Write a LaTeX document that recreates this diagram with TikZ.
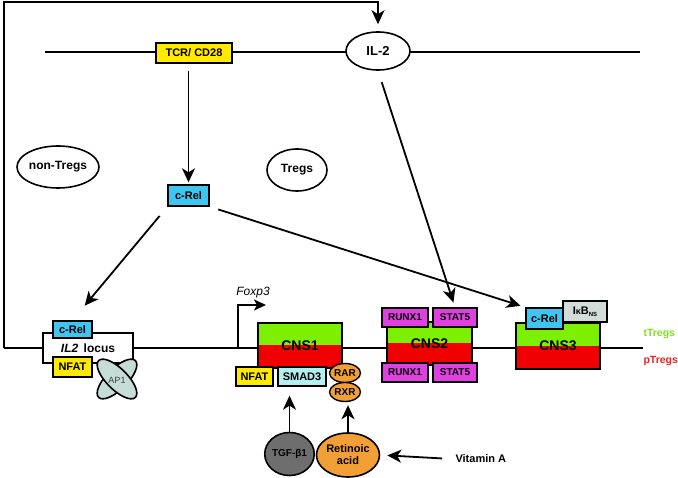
\documentclass[tikz,border=0pt]{standalone}
\usepackage{fontspec}
\setmainfont{Liberation Sans}
\usetikzlibrary{arrows.meta,shapes.geometric}

\definecolor{boxyellow}{HTML}{FFEA00}
\definecolor{relblue}{HTML}{3FC6F0}
\definecolor{smadblue}{HTML}{B4F0F2}
\definecolor{runxpink}{HTML}{E040E0}
\definecolor{cnsgreen}{HTML}{7CF000}
\definecolor{cnsred}{HTML}{F00000}
\definecolor{raorange}{HTML}{F2A035}
\definecolor{tgfgrey}{HTML}{6E6E6E}
\definecolor{apgrey}{HTML}{C6DCD6}
\definecolor{ikbgrey}{HTML}{D2DCD8}
\definecolor{ttreggreen}{HTML}{80E020}
\definecolor{ptregred}{HTML}{F02020}

\tikzset{
  factor/.style={draw, line width=1.4pt, inner sep=0pt, font=\bfseries\fontsize{11}{11}\selectfont},
  cell/.style={draw, ellipse, line width=1.6pt, inner sep=0pt, font=\bfseries\fontsize{12}{12}\selectfont},
  cnsbox/.style={draw, line width=1.6pt, inner sep=0pt, font=\bfseries\fontsize{14}{14}\selectfont,
    path picture={
      \fill[cnsgreen] (path picture bounding box.north west) rectangle (path picture bounding box.east);
      \fill[cnsred] (path picture bounding box.west) rectangle (path picture bounding box.south east);
    }},
  arr/.style={line width=1.8pt, -{Stealth[length=14pt,width=13pt,inset=4pt]}},
}

\begin{document}
\begin{tikzpicture}[x=1pt,y=-1pt]

\def\TCRCOLOR{boxyellow}
\def\RELCOLOR{relblue}
\def\RUNXCOLOR{runxpink}
	\useasboundingbox (0,0) rectangle (678,478);

	% membrane and gene line
	\coordinate (left) at (4,348);
	\coordinate (right) at (643,348);
	\coordinate (top) at (4,2);
	\draw[line width=1.8pt] (45,52) -- (640,52);
	\draw[line width=1.8pt] (left) -- (right);

	\node[factor, fill=\TCRCOLOR, minimum width=76, minimum height=20] (tcr) at (194,53) {TCR/ CD28};
	\node[cell, fill=white, minimum width=64, minimum height=38, font=\bfseries\fontsize{13}{13}\selectfont] (il2) at (378,51) {IL-2};
	\node[cell, minimum width=73, minimum height=42] (nontregs) at (58,167) {non-Tregs};
	\node[cell, minimum width=60, minimum height=42] (tregs) at (297,170) {Tregs};
	\node[factor, fill=\RELCOLOR, minimum width=41, minimum height=21] (crel) at (188.5,195.5) {c-Rel};

	% IL2 locus
	\node[draw, line width=1.6pt, fill=white, minimum width=90, minimum height=30, inner sep=0pt,
	  font=\bfseries\fontsize{12}{12}\selectfont] (locus) at (88,348) {\textit{IL2}\, locus};
	\node[factor, fill=\RELCOLOR, minimum width=39, minimum height=17] (crelA) at (72.5,329.5) {c-Rel};
	\node[factor, fill=\TCRCOLOR, minimum width=39, minimum height=20] (nfatA) at (72.5,367) {NFAT};
	\node[draw, ellipse, line width=1.6pt, fill=apgrey, minimum width=52, minimum height=21, rotate=45] (apone) at (117,379) {};
	\node[draw, ellipse, line width=1.6pt, fill=apgrey, minimum width=52, minimum height=21, rotate=-45] (aptwo) at (117,379) {};
	\node[text=black!75, font=\fontsize{9}{9}\selectfont] (aplabel) at (117,380) {AP1};

	% CNS1
	\coordinate (tss) at (238,348);
	\coordinate (tssend) at (266,305);
	\draw[line width=1.8pt, -{Stealth[length=12pt,width=11pt,inset=3pt]}] (tss) |- (tssend);
	\node[font=\itshape\fontsize{12}{12}\selectfont] (foxp) at (253,293) {Foxp3};
	\node[cnsbox, minimum width=84, minimum height=45] (cnsone) at (300,345.5) {CNS1};
	\node[factor, fill=\TCRCOLOR, minimum width=37, minimum height=19] (nfatB) at (254.5,376.5) {NFAT};
	\node[factor, fill=smadblue, minimum width=48, minimum height=19] (smad) at (302,376.5) {SMAD3};
	\node[draw, ellipse, line width=1.4pt, fill=raorange, minimum width=31, minimum height=19, inner sep=0pt,
	  font=\bfseries\fontsize{10}{10}\selectfont] (rar) at (345,373) {RAR};
	\node[draw, ellipse, line width=1.4pt, fill=raorange, minimum width=31, minimum height=19, inner sep=0pt,
	  font=\bfseries\fontsize{10}{10}\selectfont] (rxr) at (345,392) {RXR};
	\node[cell, fill=tgfgrey, minimum width=48, minimum height=43, font=\bfseries\fontsize{10}{10}\selectfont] (tgf) at (289.5,454) {TGF-β1};
	\node[cell, fill=raorange, minimum width=63, minimum height=44, align=center,
	  font=\bfseries\fontsize{11}{12}\selectfont] (ra) at (348,455) {Retinoic\\acid};
	\node[anchor=west, font=\bfseries\fontsize{11}{11}\selectfont] (vita) at (452,459) {Vitamin A};

	% CNS2
	\node[cnsbox, minimum width=85, minimum height=43] (cnstwo) at (429.5,343.5) {CNS2};
	\node[factor, fill=\RUNXCOLOR, minimum width=46, minimum height=19, font=\bfseries\fontsize{10}{10}\selectfont] (runxA) at (405,317.5) {RUNX1};
	\node[factor, fill=\RUNXCOLOR, minimum width=44, minimum height=19, font=\bfseries\fontsize{10}{10}\selectfont] (statA) at (455,317.5) {STAT5};
	\node[factor, fill=\RUNXCOLOR, minimum width=46, minimum height=19, font=\bfseries\fontsize{10}{10}\selectfont] (runxB) at (405,372.5) {RUNX1};
	\node[factor, fill=\RUNXCOLOR, minimum width=44, minimum height=19, font=\bfseries\fontsize{10}{10}\selectfont] (statB) at (455,372.5) {STAT5};

	% CNS3
	\node[cnsbox, minimum width=84, minimum height=46] (cnsthree) at (558,346) {CNS3};
	\node[factor, fill=\RELCOLOR, minimum width=37, minimum height=21] (crelB) at (544.5,318.5) {c-Rel};
	\node[factor, fill=ikbgrey, minimum width=44, minimum height=21] (ikb) at (585,311.5)
	  {I{\fontsize{9}{9}\selectfont κ}B{\fontsize{6}{6}\selectfont\raisebox{-2pt}{NS}}};

	\node[anchor=west, text=ttreggreen, font=\bfseries\fontsize{10.5}{10.5}\selectfont] (ttregs) at (640,334) {tTregs};
	\node[anchor=west, text=ptregred, font=\bfseries\fontsize{10.5}{10.5}\selectfont] (ptregs) at (640,361) {pTregs};

	% signalling arrows
	\draw[arr, shorten >=7pt] (left) -- (top) -| (il2.north);
	\draw[arr, shorten <=7pt, shorten >=2pt] (tcr.south -| crel.north) -- (crel.north);
	\draw[arr, shorten <=12pt, shorten >=5pt] (il2.south) -- (statA.north);
	\draw[arr, shorten <=12pt, shorten >=19pt] (crel.south west) -- (crelA.north);
	\draw[arr, shorten <=9pt, shorten >=5pt] (crel.south east) -- (crelB.north west);
	\draw[arr, shorten >=9pt] (tgf.north) -- (tgf.north |- smad.south);
	\draw[arr, shorten >=3pt] (ra.north) -- (ra.north |- rxr.south);
	\draw[arr, shorten <=10pt, shorten >=7pt] (vita.west) -- (ra.east);

\end{tikzpicture}
\end{document}
